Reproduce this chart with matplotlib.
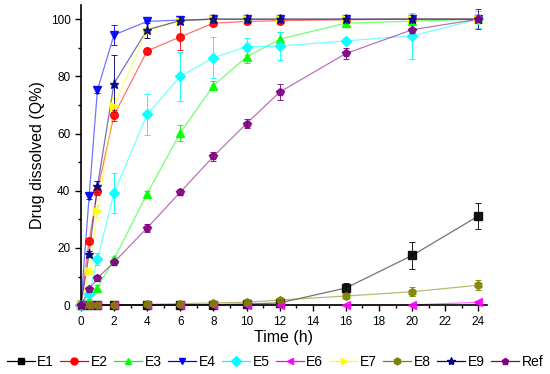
import matplotlib
matplotlib.use("Agg")
import matplotlib.pyplot as plt
from matplotlib.ticker import MultipleLocator

plt.rcParams['font.family'] = ['Liberation Sans', 'DejaVu Sans']

time = [0, 0.5, 1, 2, 4, 6, 8, 10, 12, 16, 20, 24]

names = ['E1', 'E2', 'E3', 'E4', 'E5', 'E6', 'E7', 'E8', 'E9', 'Ref']

e1 = [0, 0, 0, 0, 0, 0.1, 0.2, 0.4, 0.8, 6.0, 17.4, 31.2]
e2 = [0, 22.5, 40.0, 66.4, 88.9, 93.8, 98.6, 99.2, 99.5, 99.8, 100, 100]
e3 = [0, 1.5, 6.0, 16.0, 39.0, 60.2, 76.8, 86.8, 93.0, 98.6, 99.3, 100]
e4 = [0, 38.0, 75.2, 94.5, 99.2, 99.7, 100, 100, 100, 100, 100, 100]
e5 = [0, 4.0, 16.1, 39.2, 66.7, 80.0, 86.5, 90.3, 90.6, 92.4, 94.2, 100]
e6 = [0, 0, 0, 0, 0, 0, 0, 0, 0, 0, 0.1, 1.0]
e7 = [0, 12.0, 33.0, 69.6, 96.0, 99.5, 100, 100, 100, 100, 100, 100]
e8 = [0, 0, 0, 0, 0.3, 0.5, 0.8, 1.0, 1.8, 3.2, 4.7, 7.0]
e9 = [0, 18.0, 41.5, 77.5, 96.3, 99.5, 100, 100, 100, 100, 100, 100]
ref = [0, 5.5, 9.5, 15.0, 27.0, 39.5, 52.0, 63.5, 74.5, 88.0, 96.3, 100]

e1_sd = [0, 0, 0, 0, 0, 0, 0, 0, 0, 1.7, 4.7, 4.6]
e2_sd = [0, 1.0, 1.5, 2.0, 1.0, 4.5, 1.0, 0.5, 0.5, 0.3, 0.3, 0.3]
e3_sd = [0, 0.5, 1.0, 1.0, 1.0, 2.9, 1.6, 2.0, 2.5, 1.0, 1.0, 1.0]
e4_sd = [0, 1.0, 1.0, 3.5, 0.5, 0.3, 0.3, 0.3, 0.3, 0.3, 0.3, 0.3]
e5_sd = [0, 1.0, 2.0, 7.0, 7.3, 8.5, 7.2, 3.0, 5.0, 1.0, 8.0, 3.0]
e6_sd = [0, 0, 0, 0, 0, 0, 0, 0, 0, 0, 0, 0.3]
e7_sd = [0, 1.0, 2.0, 3.0, 1.0, 0.5, 0.3, 0.3, 0.3, 0.3, 0.3, 0.3]
e8_sd = [0, 0, 0, 0, 0.2, 0.3, 0.3, 0.5, 0.5, 1.0, 1.5, 1.8]
e9_sd = [0, 1.0, 2.0, 10.0, 3.0, 0.5, 0.3, 0.3, 0.3, 0.3, 0.3, 0.3]
ref_sd = [0, 0.5, 1.0, 1.0, 1.5, 1.0, 1.5, 1.7, 2.9, 2.0, 1.5, 3.5]

series = [e1, e2, e3, e4, e5, e6, e7, e8, e9, ref]
errors = [e1_sd, e2_sd, e3_sd, e4_sd, e5_sd, e6_sd, e7_sd, e8_sd, e9_sd, ref_sd]
colors = ['#000000', '#ff0000', '#00ff00', '#0000ff', '#00ffff',
          '#ff00ff', '#ffff00', '#808000', '#000080', '#800080']
markers = ['s', 'o', '^', 'v', 'D', '<', '>', 'h', '*', 'p']

fig = plt.figure(figsize=(5.5, 3.74), dpi=100)
ax = fig.add_axes([0.147, 0.184, 0.738, 0.803])

for y, err, c, m, name in zip(series, errors, colors, markers, names):
    ms = 6.5 if m == '*' else 5.5
    if m == 'D':
        ms = 4.8
    ax.errorbar(time, y, yerr=err, color=c, ecolor=c, elinewidth=0.7,
                capsize=2.5, capthick=0.7, lw=0, marker=m, alpha=0.9,
                ms=ms, mec=c, mfc=c, clip_on=False, zorder=3)
    ax.plot(time, y, color=c, lw=0.9, alpha=0.55, clip_on=False, zorder=2)

# legend proxies
handles = []
for c, m in zip(colors, markers):
    h, = ax.plot([], [], color=c, lw=0.9, marker=m, ms=5 if m != '*' else 6,
                 mec=c, mfc=c)
    handles.append(h)
leg = fig.legend(handles, names, loc='center', bbox_to_anchor=(0.5, 0.032),
                 ncol=10, frameon=False, fontsize=10, handlelength=2.0,
                 handletextpad=0.2, columnspacing=0.45, borderaxespad=0,
                 borderpad=0)

ax.set_xlim(0, 24.5)
ax.set_ylim(0, 105)
ax.xaxis.set_major_locator(MultipleLocator(2))
ax.xaxis.set_minor_locator(MultipleLocator(1))
ax.yaxis.set_major_locator(MultipleLocator(20))
ax.yaxis.set_minor_locator(MultipleLocator(10))
ax.spines['top'].set_visible(False)
ax.spines['right'].set_visible(False)
ax.spines['left'].set_linewidth(1.2)
ax.spines['bottom'].set_linewidth(1.2)
ax.tick_params(which='major', direction='out', length=4, width=1, labelsize=8.5)
ax.tick_params(which='minor', direction='out', length=2.5, width=1)

ax.set_xlabel('Time (h)', fontsize=11.5, labelpad=2)
ax.set_ylabel('Drug dissolved (Q%)', fontsize=11.5, labelpad=4)

plt.savefig('out.png', dpi=100)
